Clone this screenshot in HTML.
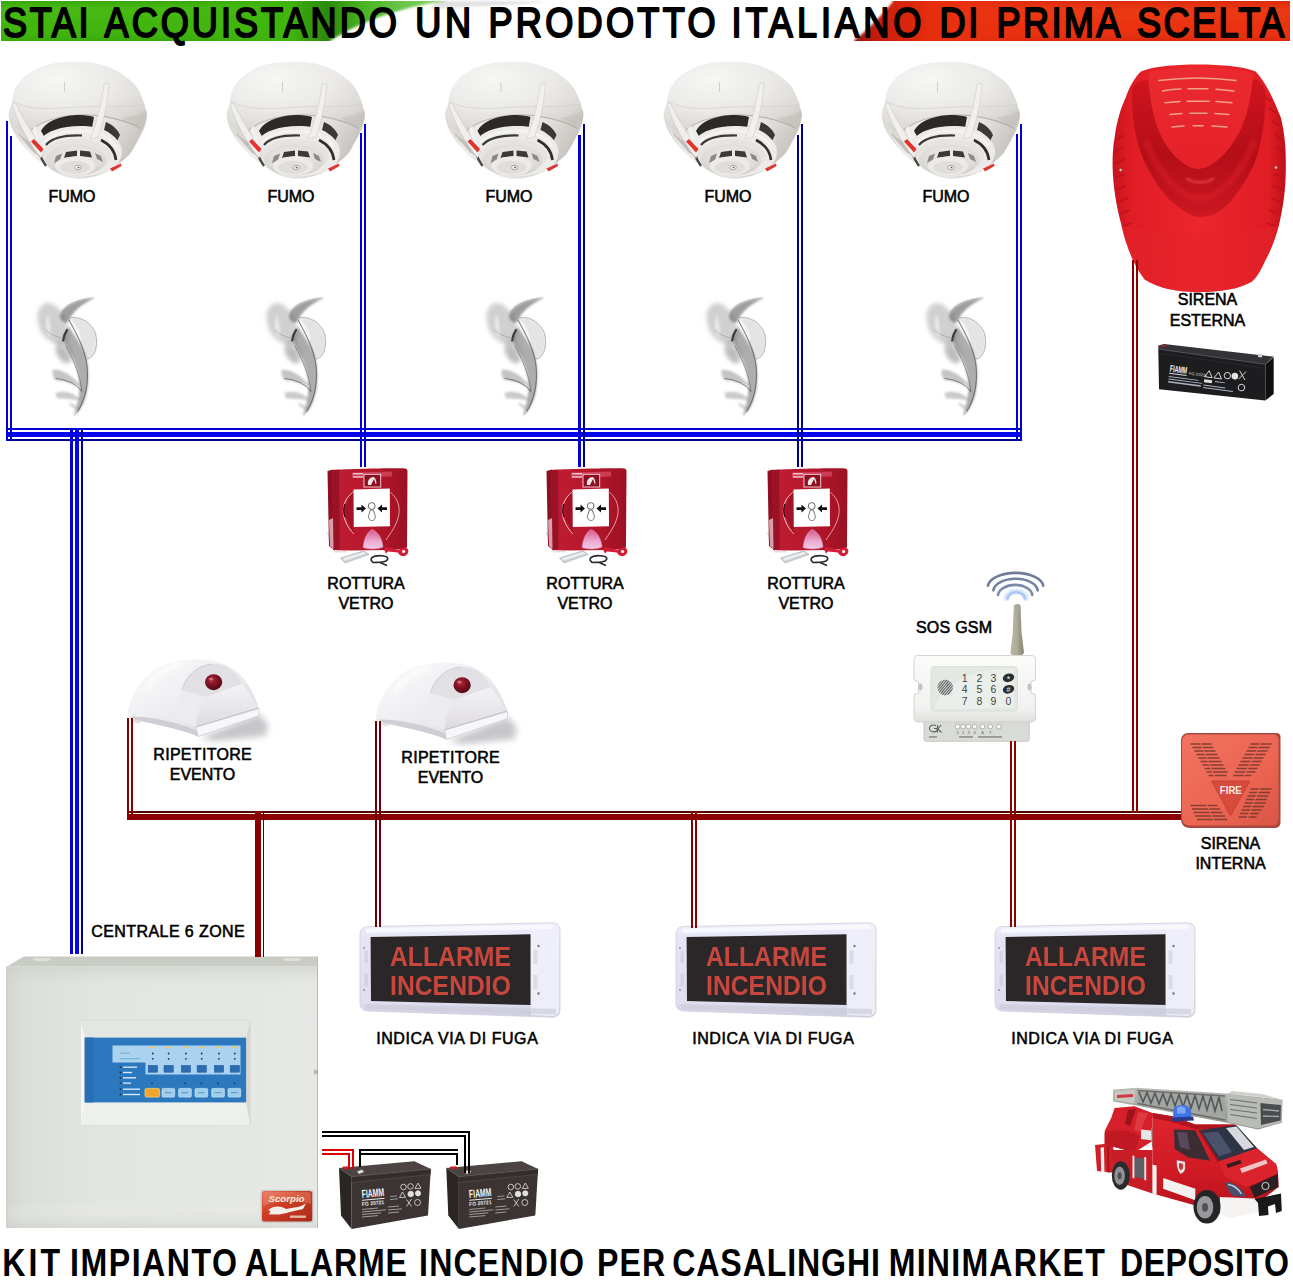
<!DOCTYPE html>
<html>
<head>
<meta charset="utf-8">
<title>Kit impianto allarme incendio</title>
<style>
html,body{margin:0;padding:0;background:#fff;}
body{width:1293px;height:1285px;overflow:hidden;font-family:"Liberation Sans",sans-serif;}
svg{display:block;position:absolute;left:0;top:0;}
text{font-family:"Liberation Sans",sans-serif;}
.lbl{font-size:16px;fill:#000;text-anchor:middle;stroke:#000;stroke-width:0.55px;}
.hdw{font-size:42px;fill:#000;stroke:#000;stroke-width:2px;stroke-linejoin:round;}
.ftw{font-size:39.2px;font-weight:bold;fill:#000;}
</style>
</head>
<body>
<svg width="1293" height="1285" viewBox="0 0 1293 1285">
<defs>

<linearGradient id="gGreen" x1="0" y1="0" x2="1" y2="0">
  <stop offset="0" stop-color="#3fb50c"/><stop offset="0.45" stop-color="#4cbc16"/><stop offset="0.8" stop-color="#3aa90a"/><stop offset="0.93" stop-color="#2b8a08"/><stop offset="1" stop-color="#5fbf3a" stop-opacity="0.5"/>
</linearGradient>
<linearGradient id="gRed" x1="0" y1="0" x2="1" y2="0">
  <stop offset="0" stop-color="#a5140a"/><stop offset="0.08" stop-color="#d8260c"/><stop offset="0.5" stop-color="#ee3410"/><stop offset="1" stop-color="#e52d0e"/>
</linearGradient>
<filter id="blur1" x="-20%" y="-20%" width="140%" height="140%"><feGaussianBlur stdDeviation="1"/></filter>
<filter id="blur2" x="-20%" y="-20%" width="140%" height="140%"><feGaussianBlur stdDeviation="2"/></filter>
<filter id="blur3" x="-30%" y="-30%" width="160%" height="160%"><feGaussianBlur stdDeviation="3"/></filter>
<filter id="blur05" x="-10%" y="-10%" width="120%" height="120%"><feGaussianBlur stdDeviation="0.5"/></filter>

<radialGradient id="gDome" cx="0.35" cy="0.25" r="0.85">
  <stop offset="0" stop-color="#f6f6f5"/><stop offset="0.5" stop-color="#ebeae8"/><stop offset="0.82" stop-color="#dcdad6"/><stop offset="1" stop-color="#c8c5c0"/>
</radialGradient>
<linearGradient id="gHead" x1="0" y1="0" x2="1" y2="0.3">
  <stop offset="0" stop-color="#d4d2ce"/><stop offset="0.3" stop-color="#eeedeb"/><stop offset="0.7" stop-color="#e6e4e1"/><stop offset="1" stop-color="#c6c3be"/>
</linearGradient>
<radialGradient id="gCap" cx="0.5" cy="0.4" r="0.7">
  <stop offset="0" stop-color="#f0efed"/><stop offset="0.7" stop-color="#dcdad6"/><stop offset="1" stop-color="#c2bfb9"/>
</radialGradient>
<g id="det">
  <!-- sensor head (lower stepped cylinder) -->
  <path d="M9,112 C8.500,118 10,125 13.600,131.700 C17,138 21,144 30.900,154 C36,159 46,166 52,170.100 C58,174 66,178 76.700,178.800 C88,179 98,176 105.200,172.600 C112,169 120,164 130,154 C134,148 140,137 143.600,129.300 C146,123 147,118 146.700,112 Z" fill="url(#gHead)"/>
  <!-- left shaded facets -->
  <path d="M18,134 L30,128 L42,158 L33,152 Z" fill="#b8b4af" opacity="0.800"/>
  <path d="M10,118 L21,119 L30,142 L21,136 Z" fill="#dcd9d5"/>
  <!-- dome -->
  <path d="M11.800,104.500 C12,100 12.500,98 13,95.800 C14,90 16,86 18.600,83.500 C22,78 26,75 30.900,72.300 C36,68.500 42,66 49.500,64.300 C58,62.500 68,61.800 79.200,61.800 C90,61.800 98,63.500 105.200,66.100 C111,68 117,70.500 121.300,73.600 C126,77 130,80 133.700,83.500 C137,87 139.500,91 141.100,95.800 C143,100 144.500,104 145.400,108.200 C146.500,112 146.900,115 146.700,116.900 C146,122 144,126 141,128.500 C126,120 100,114 78,115 C58,116 38,122 28,133 C20,130 10,124 8.700,116.900 C8.500,113 9.500,108 11.800,104.500 Z" fill="url(#gDome)"/>
  <path d="M12.500,101 C30,112 60,108 80,107 C105,106 130,108 144.500,104" fill="none" stroke="#cfccc7" stroke-width="1" opacity="0.6"/>
  <!-- dome lower rim shading -->
  <path d="M141,128.500 C126,120 100,114 78,115 C58,116 38,122 28,133" fill="none" stroke="#a9a59f" stroke-width="1.200" opacity="0.700"/>
  <path d="M146.700,110 C147,119 145,124.500 141,128.500 C135,123.500 128,120 122,118 C132,117 142,114 146.700,110 Z" fill="#c4c1bb" opacity="0.550"/>
  <!-- mesh black band -->
  <path d="M41,131 C46,121 62,115 80,115 C86,115 91,116 94,117 L92,128 C84,126 70,126 58,130 C52,132 48,135 45,138 Z" fill="#2b2a29"/>
  <path d="M106,122 C113,125 118,130 120,135 L117,141 C114,136 109,132 104,130 Z" fill="#3a3938"/>
  <path d="M44,136 C52,130 66,126.500 92,126.500 L92,128 C84,126 70,126 58,130 C52,132 48,135 45,138 Z" fill="#8a8885"/>
  <!-- ring under mesh -->
  <path d="M40,140 C46,131 62,126 80,126 C100,126 116,134 121,146 C124,154 120,164 112,169 C100,176 80,178 66,175 C52,171 44,162 41,152 C39,147 39,143 40,140 Z" fill="#ecebe9"/>
  <path d="M44,143 C50,135 64,131 80,131 C97,131 111,137 116,147" fill="none" stroke="#f4f3f1" stroke-width="2.5"/>
  <!-- inner dark arcs -->
  <path d="M46,145 C52,138 66,135 82,135.5" fill="none" stroke="#3a3938" stroke-width="2.2"/>
  <path d="M101,140 C109,144 115,151 116,160" fill="none" stroke="#2f2e2d" stroke-width="2.6"/>
  <path d="M39,152 C41,158 43,162 46,166" fill="none" stroke="#4a4846" stroke-width="2.4"/>
  <!-- lower step ring -->
  <ellipse cx="77" cy="156" rx="34" ry="17" fill="#e6e4e1"/>
  <ellipse cx="76" cy="160" rx="30" ry="15.5" fill="url(#gCap)"/>
  <!-- slots -->
  <path d="M66,152 L77,150.5 L77,156 L64,158 Z" fill="#3b3a39"/>
  <path d="M80,150.5 L90,151.5 L92,157.5 L80,156 Z" fill="#3b3a39"/>
  <path d="M56,156 L62,153.5 L60,160 L54,163 Z" fill="#8d8a86"/>
  <path d="M95,153 L101,156 L103,162 L97,159 Z" fill="#8d8a86"/>
  <!-- bottom cap -->
  <ellipse cx="75" cy="166" rx="20" ry="9.5" fill="#ecebe9"/>
  <ellipse cx="75" cy="167.5" rx="15" ry="6.5" fill="#e0deda"/>
  <ellipse cx="78" cy="167.5" rx="3.2" ry="2.2" fill="#f5f5f4" stroke="#9a9792" stroke-width="0.8"/>
  <ellipse cx="78.5" cy="167.5" rx="1" ry="0.8" fill="#55524f"/>
  <!-- straps -->
  <path d="M104,84 L109,83 C108,100 104,120 98,137 L90,139 C97,122 102,102 104,84 Z" fill="#f1f0ee" stroke="#c9c6c1" stroke-width="0.5"/>
  <path d="M12,104 L15.500,102.500 C21,116 34,136 44,152 L41,158 C29,143 17,122 12,104 Z" fill="#f0efed" stroke="#c4c0bb" stroke-width="0.500"/>
  <path d="M33,128 L36,126 C37,134 39,142 42,150 L38,146 Z" fill="#f3f2f0"/>
  <!-- red leds -->
  <path d="M31,141.5 L34,139 L43.5,149 L41,152.5 Z" fill="#e2332f"/>
  <path d="M110,168.5 L121,163.5 L121.5,166 L112,171.5 Z" fill="#dd3733"/>
  <!-- dome notch -->
  <path d="M64.5,82 L64.5,92" stroke="#c8c5c1" stroke-width="0.8"/>
</g>

<g id="smoke">
  <g filter="url(#blur2)" stroke="none">
    <path d="M38,322 C36,312 40,304 47,303 C54,303 58,308 62,312 C67,318 70,330 68,340 C66,347 58,346 50,341 C43,337 39,330 38,322 Z" fill="#9c9c9c" opacity="0.48"/>
    <path d="M56,340 C62,338 70,342 72,352 C73,360 70,364 66,364 C60,362 55,352 56,340 Z" fill="#a4a4a4" opacity="0.45"/>
    <path d="M55,348 C60,344 68,348 71,362 C64,364 56,358 55,348 Z" fill="#a0a0a0" opacity="0.5"/>
  </g>
  <g filter="url(#blur1)" stroke="none">
    <path d="M48,314 C50,322 52,330 50,338 C46,332 44,322 48,314 Z" fill="#ffffff" opacity="0.5"/>
    <path d="M60,316 C62,306 76,299.500 94.700,298 C86,302 76,308 70,318 C68,322 66,324 64,322 C62,321 60,319 60,316 Z" fill="#6a6a6a" opacity="0.65"/>
    <path d="M69,318 C78,316 88,320 94,330 C98,338 97,350 93,355 C91,358 88,359.500 86,359 C84,354 82,349 80,345 C82,338 78,326 69,318 Z" fill="#d2d2d2" opacity="0.6"/>
    <path d="M63,340 C63,334 66,330 69,327 C76,338 86,350 87.500,364 C89.500,378 88,394 82.500,405 C80,410 77,414 73.500,416 C78,404 80.500,392 79,380 C77.500,366 70,352 63,340 Z" fill="#626262" opacity="0.52"/>
    <path d="M52.500,370 C60,368.500 72,374 81.500,387 C74,384 64,381 55,380 C53,377 52,373 52.500,370 Z" fill="#8c8c8c" opacity="0.5"/>
    <path d="M55.500,393 C64,389.500 75,393 81.500,400.500 C74,400 64,398 57,398.500 Z" fill="#929292" opacity="0.48"/>
    <path d="M68.500,403 C73,403 77,406 79.500,410 C75,410 71,407 68.500,403 Z" fill="#9a9a9a" opacity="0.45"/>
  </g>
  <g filter="url(#blur05)" fill="none" stroke-linecap="round">
    <path d="M63.200,340.500 C63.600,336 65,333 67,330" stroke="#141414" stroke-width="2.200" opacity="0.75"/>
    <path d="M69,320 C78,336 85,350 87,366 C88.500,382 86,398 78,411" stroke="#4c4c4c" stroke-width="1.100" opacity="0.7"/>
    <path d="M66,346 C72,358 80,372 82,392" stroke="#5a5a5a" stroke-width="0.900" opacity="0.6"/>
    <path d="M56,378.500 C66,379.500 76,384 81.500,391" stroke="#4f4f4f" stroke-width="1.100" opacity="0.6"/>
    <path d="M69,318 C78,316 88,320 94,330 C98,338 97,350 93,355 C91,358 88,359.500 86,359" stroke="#9a9a9a" stroke-width="0.900" opacity="0.75"/>
    <path d="M62,312 C66,304 78,299.500 94,298" stroke="#8a8a8a" stroke-width="0.800" opacity="0.5"/>
    <path d="M66,338 C60,338 52,336 46,330" stroke="#7c7c7c" stroke-width="1" opacity="0.4"/>
  </g>
</g>

<linearGradient id="gCP" x1="0" y1="0" x2="1" y2="0">
  <stop offset="0" stop-color="#a81428"/><stop offset="0.12" stop-color="#bd1c31"/><stop offset="0.55" stop-color="#b6172b"/><stop offset="1" stop-color="#9c1124"/>
</linearGradient>
<linearGradient id="gFlap" x1="0" y1="0" x2="0" y2="1">
  <stop offset="0" stop-color="#d65a8a"/><stop offset="0.6" stop-color="#ecaad0"/><stop offset="1" stop-color="#f3c9e2"/>
</linearGradient>
<g id="cp">
  <!-- soft base shadow / white back plate -->
  <path d="M326.500,532 L334,552.500 L347,552.500 L345,540 L333,532 Z" fill="#ecdde2"/>
  <!-- back box -->
  <path d="M327.5,471 L333,469.5 L333,549 L329,546 Z" fill="#8e0f22"/>
  <!-- main body -->
  <path d="M332,470 C350,469 390,468 405,468.5 C407,468.6 407.5,470 407.5,472 L407,546 C407,548 406,549 404,549 L390,550 L350,550.5 L333,550 Z" fill="url(#gCP)"/>
  <!-- left darker side panel -->
  <path d="M333,470 L339,470 L339.5,549 L333,549.5 Z" fill="#9a1225"/><path d="M329,520 L333,518 L333.500,549 L330,546 Z" fill="#e3b9c2" opacity="0.85"/>
  <!-- top highlight strip -->
  <path d="M352,472.5 L392,471.5 L392,476.5 L352,477.5 Z" fill="#d9506a" opacity="0.7"/>
  <!-- side lens curves -->
  <path d="M353.5,492 C344,498 341,510 345,520 C347,526 351,531 354,534" fill="none" stroke="#f2c2c8" stroke-width="1"/>
  <path d="M353.5,492 C346,499 344,510 347,519 C349,525 352,530 354,534 Z" fill="#9c1024" opacity="0.8"/>
  <path d="M390,492 C398,498 401,508 398,518 C396,526 390,534 386,540" fill="none" stroke="#e9a9b3" stroke-width="0.9"/>
  <path d="M390,492 C396,499 398,508 396,516 C394,522 392,526 390,528 Z" fill="#ad1428" opacity="0.9"/>
  <path d="M345,504 C343.5,508 343.5,513 345,517" stroke="#3a0810" stroke-width="1.4" fill="none"/>
  <!-- white window -->
  <path d="M353.5,489.5 L389.8,488.6 L390,526.2 L353.8,527 Z" fill="#ffffff"/>
  <!-- logo box -->
  <rect x="364" y="474.3" width="16.7" height="12.7" fill="#8c0e1f" stroke="#f7dfe3" stroke-width="0.9"/>
  <path d="M368,485 C367,480 370,477 374,477 C376,479 377,482 376,485 Z" fill="#f4e6e8"/>
  <path d="M371,485 L374,479 L376,485 Z" fill="#8c0e1f"/>
  <rect x="353" y="473" width="10" height="1.4" fill="#f3c6cf"/>
  <rect x="353" y="476.3" width="10" height="1.4" fill="#f3c6cf"/>
  <!-- arrows + circle + finger -->
  <path d="M356.5,507.3 L361.5,507.3 L361.5,504.6 L366,508.6 L361.5,512.6 L361.5,509.9 L356.5,509.9 Z" fill="#111"/>
  <path d="M387,507.3 L382,507.3 L382,504.6 L377.5,508.6 L382,512.6 L382,509.9 L387,509.9 Z" fill="#111"/>
  <circle cx="371.7" cy="506" r="3.4" fill="#fff" stroke="#555" stroke-width="0.9"/>
  <path d="M370.4,510 L373.2,510 L374.6,514 C376,516 375.5,520 372.5,520.5 C369.5,520.8 368,518 368.6,515.5 Z" fill="#fff" stroke="#666" stroke-width="0.9"/>
  <!-- flap -->
  <path d="M372,529.5 C378,532 382,538 383,547 C378,549.5 368,549.5 363,547.5 C364,539 367,532 372,529.5 Z" fill="url(#gFlap)" stroke="#d994bd" stroke-width="0.6"/>
  <!-- key -->
  <path d="M384,549.5 L386,547 L399,550 C401,547 406,546.5 408,549.5 C409.5,553 406,557 402,556 C399.5,555.5 398.5,553.5 398,552.5 L388,551.5 L386,553.5 Z" fill="#d11d35"/>
  <circle cx="403.6" cy="551.5" r="1.6" fill="#fff"/>
  <!-- silver bar -->
  <path d="M340.5,558 L364,550.8 L369,554.5 L345,563 Z" fill="#cfd3d6" stroke="#9aa0a5" stroke-width="0.5"/>
  <path d="M343,558.6 L364,552 L366,553.5 L345,560.5 Z" fill="#eef1f3"/>
  <!-- black loop -->
  <path d="M371,560 C371,556 378,555 384,556 C388,556.5 389,559 386,561 C382,563 377,562 373,562.5 Z" fill="none" stroke="#2a2a2a" stroke-width="1.6"/>
  <path d="M380,562.5 L387,565.5" stroke="#2a2a2a" stroke-width="1.5"/>
</g>

<linearGradient id="gRep" x1="0" y1="0" x2="1" y2="1">
  <stop offset="0" stop-color="#fbfbfc"/><stop offset="0.45" stop-color="#efeef1"/><stop offset="1" stop-color="#d9d7dd"/>
</linearGradient>
<linearGradient id="gRepF" x1="0" y1="0" x2="0" y2="1">
  <stop offset="0" stop-color="#f4f3f6"/><stop offset="1" stop-color="#dddbe0"/>
</linearGradient>
<radialGradient id="gLed" cx="0.4" cy="0.35" r="0.7">
  <stop offset="0" stop-color="#b02a3c"/><stop offset="0.5" stop-color="#7d1222"/><stop offset="1" stop-color="#4e0812"/>
</radialGradient>
<g id="rep">
  <!-- shadow -->
  <path d="M200,738 L259,714 L268,724 L266,736 L215,741 Z" fill="#8f8f96" opacity="0.5" filter="url(#blur3)"/>
  <path d="M131,712 C130,718 133,721 140,722" stroke="#c8c8cc" stroke-width="2" fill="none" filter="url(#blur1)"/>
  <!-- body silhouette -->
  <path d="M127.500,716 C128,700 139,681 155,669.500 C171,660 190,658.800 204,659.800 C217,660.800 229,664.500 239,673.500 C247,681 255,695 259,708.500 L259.200,715.500 L198,736.500 C186,731 160,725 135.700,720 C131,719 128,718 127.500,716 Z" fill="url(#gRep)"/>
  <!-- left highlight -->
  <path d="M146,690 C152,678 166,668 182,664" stroke="#ffffff" stroke-width="5" fill="none" opacity="0.8" filter="url(#blur2)"/>
  <!-- lower left shade -->
  <path d="M130,716.500 C150,716 176,722 196,730 L198,736.500 C186,731 160,725 135.700,720 Z" fill="#c9c7ce" opacity="0.8"/>
  <!-- recess -->
  <path d="M182,690 C186,676 196,666 212,664 C224,663 234,668 242,684 L206,697 Z" fill="#e1e0e5"/>
  <path d="M182,690 C186,676 196,666 212,664" stroke="#cfcdd4" stroke-width="1" fill="none"/>
  <!-- front sloped face -->
  <path d="M206,697 L242,684 C248,692 254,700 258,708 L196,727 C196,715 200,704 206,697 Z" fill="url(#gRepF)"/>
  <path d="M182,690 L206,697 C200,704 196,715 196,727 C190,724 184,722 178,720 C176,710 178,698 182,690 Z" fill="#ecebef"/>
  <!-- lip -->
  <path d="M196,727 L259,708.500 L259.200,715.500 L198,736.500 Z" fill="#f7f7f9" stroke="#c4c2c9" stroke-width="0.6"/>
  <path d="M196,727 L258,708" stroke="#bdbbc2" stroke-width="0.8"/>
  <!-- LED -->
  <ellipse cx="213.6" cy="682.2" rx="8.6" ry="8" fill="url(#gLed)"/>
  <ellipse cx="211" cy="679" rx="2.2" ry="1.6" fill="#d77a86" opacity="0.8"/>
</g>

<linearGradient id="gSign" x1="0" y1="0" x2="0" y2="1">
  <stop offset="0" stop-color="#f0f0fb"/><stop offset="0.15" stop-color="#e5e5f4"/><stop offset="0.85" stop-color="#dedeee"/><stop offset="1" stop-color="#cdcddf"/>
</linearGradient>
<g id="sign">
  <path d="M368,926.5 L552,922.8 C557,922.7 560,925.5 560,930 L560,1010 C560,1014.5 557,1017.3 552,1017.2 L368,1011 C363,1010.8 360,1008 360,1003.5 L360,934 C360,929.5 363,926.6 368,926.5 Z" fill="url(#gSign)" stroke="#cfcfdd" stroke-width="0.8"/>
  <!-- right face lighter -->
  <path d="M531,925 L552,924 C556.5,924 559,926.5 559,930 L559,1010 C559,1013.5 556.5,1016 552,1016 L531,1015 Z" fill="#f0f0fa" opacity="0.9"/>
  <!-- top highlight -->
  <path d="M366,928.5 L553,924.5 L553,929 L366,933 Z" fill="#fafaff" opacity="0.8"/>
  <!-- bottom shade -->
  <path d="M364,1004 L556,1009 L556,1014.5 L366,1009 Z" fill="#c9c9d8" opacity="0.6"/>
  <!-- black panel -->
  <path d="M370.6,937 L530.5,934.3 L530.5,1005 L371,1001 Z" fill="#2b2729"/>
  <!-- grilles -->
  <g stroke="#b9b9c8" stroke-width="0.7">
    <path d="M533.5,951 h4 M533.5,953 h4 M533.5,955 h4 M533.5,957 h4 M533.5,959 h4 M533.5,961 h4 M533.5,963 h4"/>
    <path d="M533.5,976 h4 M533.5,978 h4 M533.5,980 h4 M533.5,982 h4 M533.5,984 h4 M533.5,986 h4 M533.5,988 h4"/>
    <path d="M364.5,952 h3.5 M364.5,954 h3.5 M364.5,956 h3.5 M364.5,958 h3.5 M364.5,960 h3.5 M364.5,962 h3.5"/>
    <path d="M364.5,975 h3.5 M364.5,977 h3.5 M364.5,979 h3.5 M364.5,981 h3.5 M364.5,983 h3.5 M364.5,985 h3.5"/>
  </g>
  <circle cx="538.5" cy="946" r="1.2" fill="#77778a"/><circle cx="538.5" cy="993.5" r="1.2" fill="#77778a"/>
  <circle cx="364" cy="948" r="0.9" fill="#8a8a9c"/><circle cx="364" cy="990" r="0.9" fill="#8a8a9c"/>
  <!-- text -->
  <g font-weight="bold" font-size="28.5" fill="#c8463e" filter="url(#blur05)">
    <text x="390" y="966" textLength="121" lengthAdjust="spacingAndGlyphs">ALLARME</text>
    <text x="390" y="994.8" textLength="121" lengthAdjust="spacingAndGlyphs">INCENDIO</text>
  </g>
</g>

<linearGradient id="gAnt" x1="0" y1="0" x2="1" y2="0">
  <stop offset="0" stop-color="#b9b7a6"/><stop offset="0.45" stop-color="#aeac9a"/><stop offset="1" stop-color="#85836f"/>
</linearGradient>
<linearGradient id="gGsm" x1="0" y1="0" x2="0" y2="1">
  <stop offset="0" stop-color="#fbfbfa"/><stop offset="0.8" stop-color="#f1f2f0"/><stop offset="1" stop-color="#dfe0dd"/>
</linearGradient>
<pattern id="hatch" width="2" height="2" patternUnits="userSpaceOnUse" patternTransform="rotate(-50)">
  <rect width="2" height="2" fill="#d9ddd8"/><rect width="2" height="1" fill="#55585a"/>
</pattern>

<linearGradient id="gSirB" x1="0" y1="0" x2="1" y2="0">
  <stop offset="0" stop-color="#c8141e"/><stop offset="0.1" stop-color="#e01c25"/><stop offset="0.5" stop-color="#ec262c"/><stop offset="0.9" stop-color="#e01c25"/><stop offset="1" stop-color="#c01019"/>
</linearGradient>
<linearGradient id="gSirU" x1="0" y1="0" x2="0" y2="1">
  <stop offset="0" stop-color="#d0141e"/><stop offset="0.55" stop-color="#b40e18"/><stop offset="1" stop-color="#cc1822"/>
</linearGradient>
<linearGradient id="gSirT" x1="0" y1="0" x2="0" y2="1">
  <stop offset="0" stop-color="#ea2a30"/><stop offset="1" stop-color="#e52128"/>
</linearGradient>
<linearGradient id="gInt" x1="0" y1="0" x2="1" y2="1">
  <stop offset="0" stop-color="#f07360"/><stop offset="0.6" stop-color="#ec6553"/><stop offset="1" stop-color="#d95443"/>
</linearGradient>

<linearGradient id="gPanel" x1="0" y1="0" x2="1" y2="0">
  <stop offset="0" stop-color="#d3d6cf"/><stop offset="0.06" stop-color="#dcdfd9"/><stop offset="0.3" stop-color="#e3e5e1"/><stop offset="1" stop-color="#e6e8e5"/>
</linearGradient>
<linearGradient id="gPanelV" x1="0" y1="0" x2="0" y2="1">
  <stop offset="0" stop-color="#c8cbc3" stop-opacity="0.55"/><stop offset="0.08" stop-color="#d8dbd5" stop-opacity="0"/><stop offset="0.9" stop-color="#ffffff" stop-opacity="0"/><stop offset="1" stop-color="#c9ccc6" stop-opacity="0.5"/>
</linearGradient>
<linearGradient id="gLogo" x1="0" y1="0" x2="1" y2="1">
  <stop offset="0" stop-color="#e8735a"/><stop offset="0.4" stop-color="#cf3c24"/><stop offset="1" stop-color="#a82a18"/>
</linearGradient>

<g id="batt">
  <path d="M339,1168 L351.6,1176.7 L351.6,1229 L341,1215.4 Z" fill="#2b2624"/>
  <path d="M351.6,1176.7 L430.8,1169 L428,1215.4 L351.6,1229 Z" fill="#3b3432"/>
  <path d="M339,1168 L414.4,1161.2 L430.8,1169 L351.6,1176.7 Z" fill="#4b4442"/>
  <path d="M351.6,1176.7 L430.8,1169 L430.5,1174.5 L351.6,1182.5 Z" fill="#332d2b"/>
  <path d="M351.6,1182.5 L430.5,1174.5" stroke="#574f4c" stroke-width="0.7"/>
  <path d="M351.6,1176.7 L430.8,1169" stroke="#5e5654" stroke-width="0.8"/>
  <path d="M339,1168 L351.6,1176.7" stroke="#5a5250" stroke-width="0.7"/>
  <path d="M342,1166.800 L349,1166.200 L351,1168.6 L344,1169.400 Z" fill="#c8202a"/>
  <path d="M357,1171.5 L362,1169.5 L364,1172 L359,1174 Z" fill="#d8d8d8"/>
  <text x="362" y="1198" font-size="11.5" font-weight="bold" fill="#f4f4f4" textLength="22.5" lengthAdjust="spacingAndGlyphs" transform="rotate(-5 362 1198)">FIAMM</text>
  <path d="M362,1200.300 L384.5,1198.300" stroke="#e8e8e8" stroke-width="1"/>
  <text x="362" y="1206" font-size="5.5" font-weight="bold" fill="#e4e4e4" textLength="22.5" lengthAdjust="spacingAndGlyphs" transform="rotate(-5 362 1206)">FG 20721</text>
  <g fill="none" stroke="#e2e2e2" stroke-width="0.8">
    <circle cx="403.5" cy="1187" r="2.8"/><circle cx="410.500" cy="1186.400" r="2.8"/><path d="M415,1188.500 l3,-5.500 l3,5.300 Z"/>
    <path d="M399.500,1197.500 l3,-5.500 l3,5.300 Z"/><circle cx="410.700" cy="1194" r="2.800" fill="#e2e2e2"/><circle cx="418" cy="1193.300" r="2.600" fill="#e2e2e2"/>
    <path d="M406.500,1199.500 l5,7 M411.500,1199 l-5,7.500"/><circle cx="417.500" cy="1202.500" r="3"/>
  </g>
  <g stroke="#cfcaca" stroke-width="0.8" opacity="0.85">
    <path d="M362,1209.500 L378,1208 M362,1212 L386,1209.800 M362,1214.500 L381,1212.800 M362,1217 L378,1215.600 M388,1207 L399,1206 M388,1210 L402,1208.800 M388,1213 L399,1212 M390,1196.500 L397,1195.900 M390,1199.500 L398,1198.800"/>
  </g>
</g>

<linearGradient id="gTruck" x1="0" y1="0" x2="0" y2="1">
  <stop offset="0" stop-color="#e0252e"/><stop offset="0.6" stop-color="#cf1a24"/><stop offset="1" stop-color="#b3121b"/>
</linearGradient>
<linearGradient id="gLadder" x1="0" y1="0" x2="0" y2="1">
  <stop offset="0" stop-color="#b9bbb7"/><stop offset="1" stop-color="#8e908c"/>
</linearGradient>

<linearGradient id="gGreen2" gradientUnits="userSpaceOnUse" x1="290" y1="0" x2="446" y2="0">
  <stop offset="0" stop-color="#41b60e"/><stop offset="0.1" stop-color="#379f0a"/><stop offset="0.24" stop-color="#2c8a08"/><stop offset="0.5" stop-color="#4fb82a"/><stop offset="1" stop-color="#8fd46e"/>
</linearGradient>
<linearGradient id="gGreenV" x1="0" y1="0" x2="0" y2="1">
  <stop offset="0" stop-color="#2f9a06" stop-opacity="0.5"/><stop offset="0.2" stop-color="#52c01c" stop-opacity="0.4"/><stop offset="0.6" stop-color="#52c01c" stop-opacity="0"/><stop offset="1" stop-color="#2f9a06" stop-opacity="0.45"/>
</linearGradient>
<linearGradient id="gRed2" gradientUnits="userSpaceOnUse" x1="853" y1="0" x2="960" y2="0">
  <stop offset="0" stop-color="#9a1208"/><stop offset="0.25" stop-color="#c81e0a"/><stop offset="0.7" stop-color="#e52d0e"/><stop offset="1" stop-color="#ea3110"/>
</linearGradient>
<linearGradient id="gRedV" x1="0" y1="0" x2="0" y2="1">
  <stop offset="0" stop-color="#d02408" stop-opacity="0.5"/><stop offset="0.25" stop-color="#f04a1e" stop-opacity="0.35"/><stop offset="0.7" stop-color="#f04a1e" stop-opacity="0"/><stop offset="1" stop-color="#c81e06" stop-opacity="0.45"/>
</linearGradient>

<linearGradient id="gFadeG" gradientUnits="userSpaceOnUse" x1="180" y1="0" x2="291" y2="0"><stop offset="0" stop-color="#fff"/><stop offset="1" stop-color="#000"/></linearGradient>
<mask id="mFadeG" maskUnits="userSpaceOnUse" x="0" y="0" width="300" height="50"><rect x="0" y="0" width="300" height="50" fill="url(#gFadeG)"/></mask>
<linearGradient id="gFadeR" gradientUnits="userSpaceOnUse" x1="950" y1="0" x2="1040" y2="0"><stop offset="0" stop-color="#000"/><stop offset="1" stop-color="#fff"/></linearGradient>
<mask id="mFadeR" maskUnits="userSpaceOnUse" x="940" y="0" width="360" height="50"><rect x="940" y="0" width="360" height="50" fill="url(#gFadeR)"/></mask>
<clipPath id="cBand"><rect x="0" y="1" width="1293" height="40"/></clipPath>
<!--DEFS-->
</defs>

<!-- ===== HEADER BANDS ===== -->
<g id="header">

<path d="M436,1 L548,1.500 C520,5 470,7 430,9 Z" fill="#cfcfcf" opacity="0.600" filter="url(#blur1)"/>
<g clip-path="url(#cBand)"><path d="M270,-2 L446,-2 L446,1 C410,5 362,20 330,41 L330,44 L270,44 Z" fill="url(#gGreen2)" filter="url(#blur1)"/></g>
<rect x="1" y="1" width="290" height="40" fill="#41b60e"/>
<rect x="1" y="1" width="290" height="40" fill="url(#gGreenV)" mask="url(#mFadeG)"/>
<g clip-path="url(#cBand)"><path d="M893,-2 L970,-2 L970,44 L854,44 L854,40.500 C868,30 883,14 893,1.500 Z" fill="url(#gRed2)" filter="url(#blur1)"/></g>
<rect x="950" y="1" width="340" height="40" fill="#ea3110"/>
<rect x="950" y="1" width="340" height="40" fill="url(#gRedV)" mask="url(#mFadeR)"/>
<g id="hdtext" transform="scale(0.86,1)">
<text class="hdw" id="w_STAI" x="3.5" y="37.2" textLength="99.6" lengthAdjust="spacing">STAI</text>
<text class="hdw" id="w_ACQUISTANDO" x="121.6" y="37.2" textLength="339.9" lengthAdjust="spacing">ACQUISTANDO</text>
<text class="hdw" id="w_UN" x="483.0" y="37.2" textLength="64.8" lengthAdjust="spacing">UN</text>
<text class="hdw" id="w_PRODOTTO" x="568.0" y="37.2" textLength="264.0" lengthAdjust="spacing">PRODOTTO</text>
<text class="hdw" id="w_ITALIANO" x="850.5" y="37.2" textLength="220.8" lengthAdjust="spacing">ITALIANO</text>
<text class="hdw" id="w_DI" x="1092.4" y="37.2" textLength="45.2" lengthAdjust="spacing">DI</text>
<text class="hdw" id="w_PRIMA" x="1158.8" y="37.2" textLength="144.0" lengthAdjust="spacing">PRIMA</text>
<text class="hdw" id="w_SCELTA" x="1322.1" y="37.2" textLength="171.0" lengthAdjust="spacing">SCELTA</text>
</g>
<g id="fttext" transform="scale(0.82,1)">
<text class="ftw" id="w_KIT" x="2.8" y="1276" textLength="70.4" lengthAdjust="spacing">KIT</text>
<text class="ftw" id="w_IMPIANTO" x="85.4" y="1276" textLength="203.7" lengthAdjust="spacing">IMPIANTO</text>
<text class="ftw" id="w_ALLARME" x="298.9" y="1276" textLength="197.4" lengthAdjust="spacing">ALLARME</text>
<text class="ftw" id="w_INCENDIO" x="511.1" y="1276" textLength="201.1" lengthAdjust="spacing">INCENDIO</text>
<text class="ftw" id="w_PER" x="728.0" y="1276" textLength="83.1" lengthAdjust="spacing">PER</text>
<text class="ftw" id="w_CASALINGHI" x="819.7" y="1276" textLength="253.5" lengthAdjust="spacing">CASALINGHI</text>
<text class="ftw" id="w_MINIMARKET" x="1083.8" y="1276" textLength="263.6" lengthAdjust="spacing">MINIMARKET</text>
<text class="ftw" id="w_DEPOSITO" x="1365.8" y="1276" textLength="206.1" lengthAdjust="spacing">DEPOSITO</text>
</g>
<!--HEADER-->
</g>

<!-- ===== COMPONENTS ===== -->

<g id="detectors">
<use href="#det" x="0" y="0"/>
<use href="#det" x="218" y="0"/>
<use href="#det" x="436.5" y="0"/>
<use href="#det" x="655" y="0"/>
<use href="#det" x="873" y="0"/>
</g>

<g id="smokes">
<use href="#smoke" x="0" y="0"/>
<use href="#smoke" x="229" y="0"/>
<use href="#smoke" x="449" y="0"/>
<use href="#smoke" x="669" y="0"/>
<use href="#smoke" x="889" y="0"/>
</g>

<g id="callpoints">
<use href="#cp" x="0" y="0"/>
<use href="#cp" x="219" y="0"/>
<use href="#cp" x="440" y="0"/>
</g>

<g id="repeaters">
<use href="#rep" x="0" y="0"/>
<use href="#rep" x="248.5" y="3"/>
</g>

<g id="signs">
<use href="#sign" x="0" y="0"/>
<use href="#sign" x="316" y="0"/>
<use href="#sign" x="635" y="0"/>
</g>

<g id="gsm">
  <!-- wifi arcs -->
  <g fill="none" stroke-linecap="round">
    <path d="M1006.6,599 A9.7,8 0 0 1 1026,599" stroke="#cfe3fb" stroke-width="5" filter="url(#blur1)"/>
    <path d="M1007.5,598.5 A8.8,7 0 0 1 1025,598.5" stroke="#a9c8f2" stroke-width="2.6"/>
    <path d="M998,595 A17.2,11 0 0 1 1032.3,595" stroke="#7d8bab" stroke-width="2.600"/>
    <path d="M993.4,590.4 A22.2,12.5 0 0 1 1037.7,590.4" stroke="#74819f" stroke-width="2.600"/>
    <path d="M988,585.7 A27.7,14 0 0 1 1043.2,585.7" stroke="#6f7b98" stroke-width="2.600"/>
  </g>
  <!-- antenna -->
  <path d="M1013.800,606 C1014,603.200 1020.300,603.200 1020.500,606 L1021.500,632 L1024,653 L1022,655 L1012,655 L1010.400,653 L1012.800,632 Z" fill="url(#gAnt)"/>
  <!-- lower box -->
  <rect x="924" y="719" width="105.3" height="22.3" rx="2" fill="#d9dbd7" stroke="#b8bab6" stroke-width="0.7"/>
  <!-- main box -->
  <path d="M918,655.5 L1031.5,655.5 C1034,655.5 1035.5,657 1035.5,659.5 L1035.5,680 L1031,681.5 L1031,693 L1035.5,694.5 L1035.5,718 C1035.5,720.5 1034,722 1031.5,722 L918,722 C915.5,722 914,720.5 914,718 L914,694.5 L918.5,693 L918.5,681.5 L914,680 L914,659.5 C914,657 915.5,655.5 918,655.5 Z" fill="url(#gGsm)" stroke="#c9cbc7" stroke-width="0.8"/>
  <ellipse cx="920.5" cy="687" rx="2" ry="3.6" fill="#c2c4c0"/><ellipse cx="1029.5" cy="687" rx="2" ry="3.6" fill="#c2c4c0"/>
  <!-- inner panel -->
  <rect x="931" y="666.6" width="86.5" height="44.4" rx="3.5" fill="#e3e8e3" stroke="#cfd4cf" stroke-width="0.6"/>
  <path d="M934,709 C940,690 960,674 990,670 L1014,669 L1014,708 Z" fill="#eef2ee" opacity="0.7"/>
  <circle cx="945.2" cy="687.6" r="7.8" fill="url(#hatch)"/>
  <!-- keys -->
  <g font-size="10.5" fill="#3f4446" text-anchor="middle" font-family="Liberation Sans">
    <text x="964.6" y="682">1</text><text x="979.4" y="682">2</text><text x="993.4" y="682">3</text>
    <text x="964.6" y="693.4">4</text><text x="979.4" y="693.4">5</text><text x="993.4" y="693.4">6</text>
    <text x="964.6" y="705">7</text><text x="979.4" y="705">8</text><text x="993.4" y="705">9</text><text x="1008.5" y="705">0</text>
  </g>
  <ellipse cx="1008.5" cy="677.8" rx="5.8" ry="4.2" fill="#2b2f31" transform="rotate(-15 1008.5 677.8)"/>
  <ellipse cx="1008.5" cy="689.3" rx="5.8" ry="4.2" fill="#2b2f31" transform="rotate(-15 1008.5 689.3)"/>
  <text x="1008.5" y="682.3" font-size="9" fill="#e8ecec" text-anchor="middle">*</text>
  <text x="1008.5" y="692" font-size="7" fill="#e8ecec" text-anchor="middle">#</text>
  <!-- lower box details -->
  <g fill="#f7f8f6" stroke="#8b8e8a" stroke-width="0.6">
    <circle cx="957.6" cy="726.6" r="2.4"/><circle cx="963" cy="726.6" r="2.4"/><circle cx="968.5" cy="726.6" r="2.4"/><circle cx="974.7" cy="726.6" r="2.4"/>
    <circle cx="982.5" cy="726.6" r="2.4"/><circle cx="990.3" cy="726.6" r="2.4"/><circle cx="998.8" cy="726.6" r="2.4"/>
  </g>
  <g font-size="4" fill="#555" text-anchor="middle"><text x="957.6" y="733.6">1</text><text x="963" y="733.6">2</text><text x="968.5" y="733.6">3</text><text x="974.7" y="733.6">4</text><text x="982.5" y="733.6">&#916;</text><text x="990.3" y="733.6">T</text></g>
  <rect x="959" y="736.3" width="14" height="1.3" fill="#7c7f7b"/><rect x="978" y="736.3" width="24" height="1.3" fill="#7c7f7b"/><rect x="929" y="736.3" width="8" height="1.3" fill="#7c7f7b"/>
  <path d="M936,725.5 C932,724 929,726 929.5,729 C930,732 934,732.5 937,731 L937,728.5 L934,728.5 M937.5,725 L937.5,732.5 M941,725 L937.8,729 L941.5,732.5" fill="none" stroke="#5e6360" stroke-width="1.1"/>
</g>

<g id="extsiren">
  <path d="M1141,71.5 C1160,62 1236,62 1255.6,71.5 C1264,80 1272,95 1281,118 C1285,135 1286,150 1285.8,165 C1286,190 1283,208 1279,225 C1275,240 1270,252 1265,261 C1261,270 1257,277 1252,281.5 C1240,289 1220,292 1197,292.2 C1176,292 1158,288 1144.7,279.6 C1140,273 1136,267 1133,260 C1128,249 1124,237 1121.4,225 C1116,205 1113,185 1112.6,166.7 C1112.5,155 1113,146 1114.6,137.5 C1117,120 1121,108 1125.3,98.6 C1129,88 1134,78 1141,71.5 Z" fill="url(#gSirB)"/>
  <!-- lower body tint -->
  <path d="M1121.4,225 C1150,236 1250,236 1279,225 C1275,240 1270,252 1265,261 C1261,270 1257,277 1252,281.5 C1240,289 1220,292 1197,292.2 C1176,292 1158,288 1144.7,279.6 C1140,273 1136,267 1133,260 C1128,249 1124,237 1121.4,225 Z" fill="#e4232a" opacity="0.5"/>
  <!-- side ribs -->
  <g stroke="#b5111b" stroke-width="1.6" opacity="0.75">
    <path d="M1116,140 l8,-5 M1115,152 l9,-5 M1114.5,164 l10,-5 M1115,178 l10,-4 M1116,190 l10,-4 M1118,202 l10,-4 M1120,214 l10,-4 M1123,226 l9,-3"/>
    <path d="M1283,140 l-8,-5 M1284,152 l-9,-5 M1284.5,178 l-10,-4 M1283,190 l-10,-4 M1281,202 l-10,-4 M1279,214 l-10,-4 M1276,226 l-9,-3 M1280,126 l-8,-5 M1276,113 l-7,-5 M1271,101 l-6,-4"/>
  </g>
  <!-- U lens -->
  <path d="M1132,89 C1134,84 1140,80 1148,80 C1150,100 1154,125 1164,141.4 C1172,155 1184,167 1197.3,168.7 C1212,167 1226,152 1236,137.5 C1245,122 1250,100 1253,80 C1258,78 1264,84 1265.4,92.8 C1266,110 1264,125 1261.5,137.5 C1258,155 1254,166 1247.9,176.5 C1240,190 1233,200 1224.5,207.6 C1217,214 1209,217 1201,217 C1194,217 1188,214 1181.7,209.5 C1172,203 1165,196 1158.4,186 C1150,174 1143,160 1139,147 C1134,130 1131,108 1132,89 Z" fill="url(#gSirU)"/>
  <path d="M1146,140 C1156,170 1176,196 1200,199 C1224,196 1244,170 1254,140" fill="none" stroke="#e0202a" stroke-width="6" opacity="0.5" filter="url(#blur2)"/>
  <path d="M1186,178 C1194,184 1206,184 1214,178" fill="none" stroke="#f04a50" stroke-width="3" opacity="0.6" filter="url(#blur1)"/>
  <!-- inner tongue -->
  <path d="M1148.6,72 C1170,66 1232,66 1253.7,73.3 C1252,86 1250,98 1247.9,108.4 C1245,120 1241,130 1236.2,137.5 C1231,147 1224,155 1216.7,160.9 C1211,166 1204,168.7 1197.3,168.7 C1192,168.7 1186,165 1181.7,160.9 C1175,155 1169,148 1164.2,141.4 C1159,132 1155,120 1152.5,108.4 C1150,96 1149,84 1148.6,72 Z" fill="url(#gSirT)"/>
  <!-- slots -->
  <g stroke="#f2a08a" stroke-width="1.5" stroke-linecap="round" fill="none">
    <path d="M1159,80.5 C1185,77 1210,77 1236,80.5"/>
    <path d="M1162.500,91 C1170,89.500 1176,89 1181,89 M1188,88.800 L1208,88.800 M1216,89.200 C1223,89.600 1228,90.200 1234,91"/>
    <path d="M1165,102.800 L1180,101.500 M1187,101.300 L1209,101.300 M1216,101.600 L1232,102.800"/>
    <path d="M1170,114.500 L1182,113.500 M1190,113.300 L1207,113.300 M1215,113.600 L1229,114.500"/>
    <path d="M1172,127 L1184,126 M1193,125.800 L1203,125.800 M1212,126.100 L1227,127"/>
  </g>
  <circle cx="1120.700" cy="170" r="1.800" fill="#d8c0b0" stroke="#8c0a12" stroke-width="0.600"/>
  <circle cx="1276" cy="167.500" r="1.800" fill="#d8c0b0" stroke="#8c0a12" stroke-width="0.600"/>
</g>
<g id="extbatt">
  <path d="M1158.300,349 L1265.400,364.300 L1265.400,400.400 L1159,389.200 Z" fill="#1d1d20"/>
  <path d="M1265.400,364.300 L1273.700,357.200 L1273.700,394 L1265.400,400.400 Z" fill="#101013"/>
  <path d="M1158.300,345.600 L1164,344 L1273.700,356.600 L1265.400,364.300 L1158.300,349 Z" fill="#333337"/>
  <path d="M1158.300,349 L1265.400,364.300" stroke="#4c4c52" stroke-width="0.900"/>
  <path d="M1158.600,353 L1265.400,368.500" stroke="#2c2c30" stroke-width="0.800"/>
  <path d="M1160,345.300 L1166,344.600 L1167,346.600 L1161,347.200 Z" fill="#8a2a2a"/>
  <path d="M1258,353.500 L1262,354 L1262,357.500 L1258,357 Z" fill="#cfcfcf"/>
  <g transform="rotate(7.500 1169 371)">
    <text x="1169.500" y="371.500" font-size="9.500" font-weight="bold" fill="#f4f4f4" textLength="17.500" lengthAdjust="spacingAndGlyphs">FIAMM</text>
    <rect x="1169.500" y="372.700" width="17.500" height="1" fill="#ddd"/>
    <text x="1189" y="372" font-size="4.200" fill="#cfcfcf">FG 20201</text>
    <g fill="none" stroke="#e0e0e0" stroke-width="0.900">
      <path d="M1205,372 l3.800,-6.500 l3.800,6.500 Z M1214.500,372 l3.800,-6.500 l3.800,6.500 Z"/>
      <circle cx="1227.500" cy="368" r="3.200"/>
      <path d="M1239,361.500 l6.500,8.500 M1245.500,361.500 l-6.500,8.500"/><circle cx="1243" cy="378" r="3.300"/>
    </g>
    <circle cx="1235" cy="367.500" r="3.300" fill="#e6e6e6"/>
    <g fill="#aeb4c4"><rect x="1169.500" y="376" width="30" height="0.900"/><rect x="1169.500" y="378.500" width="34" height="0.900"/><rect x="1169.500" y="381" width="33" height="1.600"/><rect x="1205" y="374.500" width="8" height="3" fill="#e0e0e0"/><rect x="1205" y="380" width="22" height="0.900"/><rect x="1205" y="382.500" width="30" height="0.900"/><rect x="1216" y="375" width="10" height="0.900"/></g>
  </g>
</g>
<g id="intsiren">
  <path d="M1188,733 L1276,733 C1279,733 1280.5,734.5 1280.5,737 L1280.5,822 C1280.5,826 1278,828 1274,828 L1190,828 C1184,828 1181,824 1181,819 L1181,741 C1181,736 1184,733 1188,733 Z" fill="#a9483c"/>
  <path d="M1188,734.5 L1273,734.5 C1276.5,734.5 1278.5,736.5 1278.5,740 L1278.5,819 C1278.5,823 1276,825.5 1272,825.5 L1190,825.5 C1185,825.5 1182,822 1182,818 L1182,742 C1182,737.5 1184.5,734.5 1188,734.5 Z" fill="url(#gInt)"/>
  <g stroke="#7b3a2f" stroke-width="1.5" opacity="0.9">
    <path d="M1190.5,744 h21 M1192.5,747.5 h21 M1194.5,751 h21 M1196.5,754.5 h21 M1198.5,758 h21 M1200.5,761.500 h21 M1202.5,765 h21 M1204.5,768.5 h21 M1206.5,772 h21 M1208.500,775.5 h18"/>
    <path d="M1250.500,744 h21 M1248.500,747.5 h21 M1246.500,751 h21 M1244.500,754.5 h21 M1242.500,758 h21 M1240.500,761.5 h21 M1238.500,765 h21 M1236.500,768.5 h21 M1234.500,772 h21 M1233.500,775.5 h18"/>
    <path d="M1250.500,789 h21 M1249,792.5 h21 M1247.500,796 h21 M1246,799.5 h21 M1244.500,803 h21 M1243,806.500 h21 M1241.500,810 h20 M1240,813.500 h19 M1238.500,817 h18"/>
    <path d="M1190.500,805.5 h27 M1192,809 h28 M1193.500,812.500 h29 M1195,816 h30 M1197,819.500 h30"/>
  </g>
  <g stroke="#ec6553" stroke-width="1.2"><path d="M1200,742 L1215,778 M1261,742 L1243,778 M1260,787 L1247,819 M1206,803 L1214,821"/></g>
  <path d="M1211.500,781 L1250,781 L1230.500,816 Z" fill="#d84a3c" stroke="#c24034" stroke-width="0.8"/>
  <text x="1230.800" y="794" font-size="11" font-weight="bold" fill="#fbe9e4" text-anchor="middle" textLength="22" lengthAdjust="spacingAndGlyphs">FIRE</text>
</g>
<g id="panel">
<path d="M23.8,956.5 L317.5,956.5 L317.5,966.5 L7,966.5 Z" fill="#c9ccc4"/>
<ellipse cx="42" cy="959.5" rx="9" ry="1.6" fill="#dfe1dc"/><ellipse cx="292" cy="959.5" rx="9" ry="1.6" fill="#dfe1dc"/>
<rect x="6.8" y="966.5" width="310.7" height="261.5" fill="url(#gPanel)"/>
<rect x="6.8" y="966.5" width="310.7" height="261.5" fill="url(#gPanelV)"/>
<path d="M317.5,956.5 L317.5,1228" stroke="#b9bcb6" stroke-width="1"/>
<path d="M6.8,966.5 L6.8,1228" stroke="#c2c5be" stroke-width="1"/>
<path d="M80.7,1020.4 L250,1020.4 L250,1125 L80.7,1125 Z" fill="#eceeeb" stroke="#cfd2cc" stroke-width="0.8"/>
<path d="M80.7,1020.4 L85,1037.6 L85,1102.4 L80.7,1125 Z" fill="#f6f7f5"/>
<path d="M250,1020.4 L246,1037.6 L246,1102.4 L250,1125 Z" fill="#d6d9d3"/>
<path d="M80.7,1020.4 L250,1020.4 L246,1037.6 L85,1037.6 Z" fill="#e4e6e2"/>
<path d="M85,1102.4 L246,1102.4 L250,1125 L80.7,1125 Z" fill="#eef0ed"/>
<rect x="84.7" y="1037.6" width="161.4" height="64.8" fill="#2b78be"/>
<rect x="84.7" y="1037.6" width="9" height="64.8" fill="#2a6fb2"/>
<path d="M112.5,1045.5 L240.500,1045.5 L240.500,1074.6 L145.500,1074.6 L145.500,1062.400 L112.5,1062.400 Z" fill="#a9d3ee"/>
<rect x="148.2" y="1065.4" width="9.3" height="6.8" fill="#2c6cb0" stroke="#1f5798" stroke-width="0.5"/>
<rect x="149.79999999999998" y="1046.6" width="6" height="1.6" fill="#e8c76a"/>
<circle cx="152.79999999999998" cy="1053.5" r="0.9" fill="#1d3350"/><circle cx="152.79999999999998" cy="1058.8" r="0.9" fill="#1d3350"/>
<rect x="164" y="1065.4" width="9.3" height="6.8" fill="#2c6cb0" stroke="#1f5798" stroke-width="0.5"/>
<rect x="165.6" y="1046.6" width="6" height="1.6" fill="#e8c76a"/>
<circle cx="168.6" cy="1053.5" r="0.9" fill="#1d3350"/><circle cx="168.6" cy="1058.8" r="0.9" fill="#1d3350"/>
<rect x="181.3" y="1065.4" width="9.3" height="6.8" fill="#2c6cb0" stroke="#1f5798" stroke-width="0.5"/>
<rect x="182.9" y="1046.6" width="6" height="1.6" fill="#e8c76a"/>
<circle cx="185.9" cy="1053.5" r="0.9" fill="#1d3350"/><circle cx="185.9" cy="1058.8" r="0.9" fill="#1d3350"/>
<rect x="197.1" y="1065.4" width="9.3" height="6.8" fill="#2c6cb0" stroke="#1f5798" stroke-width="0.5"/>
<rect x="198.7" y="1046.6" width="6" height="1.6" fill="#e8c76a"/>
<circle cx="201.7" cy="1053.5" r="0.9" fill="#1d3350"/><circle cx="201.7" cy="1058.8" r="0.9" fill="#1d3350"/>
<rect x="214.3" y="1065.4" width="9.3" height="6.8" fill="#2c6cb0" stroke="#1f5798" stroke-width="0.5"/>
<rect x="215.9" y="1046.6" width="6" height="1.6" fill="#e8c76a"/>
<circle cx="218.9" cy="1053.5" r="0.9" fill="#1d3350"/><circle cx="218.9" cy="1058.8" r="0.9" fill="#1d3350"/>
<rect x="230.2" y="1065.4" width="9.3" height="6.8" fill="#2c6cb0" stroke="#1f5798" stroke-width="0.5"/>
<rect x="231.79999999999998" y="1046.6" width="6" height="1.6" fill="#e8c76a"/>
<circle cx="234.79999999999998" cy="1053.5" r="0.9" fill="#1d3350"/><circle cx="234.79999999999998" cy="1058.8" r="0.9" fill="#1d3350"/>
<rect x="120" y="1052.5" width="10" height="1.3" fill="#7fb6de"/><rect x="120" y="1058" width="20" height="1.3" fill="#7fb6de"/>
<circle cx="120.4" cy="1067.2" r="0.9" fill="#12304f"/><rect x="123" y="1066.5" width="14" height="1.4" fill="#d7e8f6"/>
<circle cx="120.4" cy="1072.5" r="0.9" fill="#12304f"/><rect x="123" y="1071.8" width="9" height="1.4" fill="#d7e8f6"/>
<circle cx="120.4" cy="1077.8" r="0.9" fill="#12304f"/><rect x="123" y="1077.1" width="13" height="1.4" fill="#d7e8f6"/>
<circle cx="120.4" cy="1083.1" r="0.9" fill="#12304f"/><rect x="123" y="1082.3999999999999" width="8" height="1.4" fill="#d7e8f6"/>
<circle cx="120.4" cy="1089.2" r="0.9" fill="#12304f"/><rect x="123" y="1088.5" width="17" height="1.4" fill="#d7e8f6"/>
<circle cx="120.4" cy="1094.5" r="0.9" fill="#12304f"/><rect x="123" y="1093.8" width="17" height="1.4" fill="#d7e8f6"/>
<rect x="145" y="1088.4" width="14.6" height="8.7" rx="1.5" fill="#f0a62e" stroke="#f6cf7a" stroke-width="0.8"/>
<rect x="162" y="1088.4" width="12.7" height="8.7" rx="1.2" fill="#9fcdea" stroke="#c9e4f5" stroke-width="0.7"/>
<rect x="165" y="1092" width="6.5" height="1.2" fill="#5d9fd0"/>
<rect x="178.6" y="1088.4" width="12.7" height="8.7" rx="1.2" fill="#9fcdea" stroke="#c9e4f5" stroke-width="0.7"/>
<rect x="181.6" y="1092" width="6.5" height="1.2" fill="#5d9fd0"/>
<rect x="195" y="1088.4" width="12.7" height="8.7" rx="1.2" fill="#9fcdea" stroke="#c9e4f5" stroke-width="0.7"/>
<rect x="198" y="1092" width="6.5" height="1.2" fill="#5d9fd0"/>
<rect x="211.7" y="1088.4" width="12.7" height="8.7" rx="1.2" fill="#9fcdea" stroke="#c9e4f5" stroke-width="0.7"/>
<rect x="214.7" y="1092" width="6.5" height="1.2" fill="#5d9fd0"/>
<rect x="228" y="1088.4" width="12.7" height="8.7" rx="1.2" fill="#9fcdea" stroke="#c9e4f5" stroke-width="0.7"/>
<rect x="231" y="1092" width="6.5" height="1.2" fill="#5d9fd0"/>
<circle cx="152" cy="1083.4" r="0.8" fill="#16314f"/>
<circle cx="185" cy="1083.4" r="0.8" fill="#16314f"/>
<circle cx="201.4" cy="1083.4" r="0.8" fill="#16314f"/>
<circle cx="218" cy="1083.4" r="0.8" fill="#16314f"/>
<circle cx="234.4" cy="1083.4" r="0.8" fill="#16314f"/>
<circle cx="316" cy="1072" r="1.8" fill="#bfc2bc" stroke="#8e918b" stroke-width="0.6"/>
<rect x="260.6" y="1189.8" width="53" height="33" rx="3" fill="#c9cbc8" />
<rect x="262" y="1191" width="50.2" height="30.6" rx="2.5" fill="url(#gLogo)"/>
<path d="M263,1206 C275,1200 296,1200 311,1204 L311,1196 C311,1193.5 309.5,1192 307,1192 L266,1192 C264,1192 263,1193.5 263,1196 Z" fill="#f2a08a" opacity="0.35"/>
<text x="268.5" y="1202" font-size="9" font-style="italic" font-weight="bold" fill="#f6e9d8" textLength="36" lengthAdjust="spacingAndGlyphs">Scorpio</text>
<path d="M268,1210 C274,1205 282,1206 286,1209 L300,1206.5 L306,1203.5 L303,1209 L290,1212 C284,1214 276,1215.5 268,1214 C271,1212.5 271,1211 268,1210 Z" fill="#f4efe8"/>
<rect x="290" y="1215.5" width="16" height="2.4" fill="#f0d9c8" opacity="0.8"/>
</g>

<g id="batteries">
<use href="#batt" x="0" y="0"/>
<use href="#batt" x="107.300" y="0"/>
</g>

<g id="truck">
  <!-- soft ground shadow -->
  <!-- rear platform -->
  <path d="M1095,1145 L1113,1143 L1115,1173 L1097,1171 Z" fill="#cf1f29"/>
  <path d="M1100.600,1147.500 L1103.900,1147.200 L1104.500,1172 L1101.200,1171.700 Z" fill="#f3f1ef"/>
  <path d="M1107,1146.500 L1109,1146.300 L1109.500,1172.500 L1107.500,1172.300 Z" fill="#a8141d"/>
  <!-- rear turret -->
  <path d="M1114.600,1108 L1134.400,1106.300 L1152.500,1112.900 L1152.500,1141 L1134.400,1152.400 L1104.700,1144.200 L1104.700,1131 L1111.300,1117.800 Z" fill="#d3202a"/>
  <path d="M1104.700,1133 C1114,1129 1130,1130 1140,1136 L1134.400,1152.400 L1104.700,1144.200 Z" fill="#c01822"/>
  <path d="M1128,1110 L1136,1109 L1130,1126 L1125,1124 Z" fill="#9c121a"/>
  <path d="M1138,1112 L1148,1113 L1140,1132 L1134,1130 Z" fill="#e4454d" opacity="0.7"/>
  <path d="M1141,1129.400 L1155.800,1131 L1155.800,1140.900 L1141,1139 Z" fill="#e6e6e8"/>
  <path d="M1151,1128 L1156,1128 L1156,1146 L1152,1147 Z" fill="#8a8c90"/>
  <!-- mid cabinet -->
  <path d="M1112,1150 L1152.500,1150 L1152.500,1193.600 L1130,1186 L1116,1180 Z" fill="#c81c26"/>
  <path d="M1134.400,1157.400 L1144.300,1158.500 L1144.300,1179 L1134.400,1177 Z" fill="#5c6066"/>
  <path d="M1132.500,1155.500 L1134.400,1155.700 L1134.400,1178.500 L1132.500,1178 Z M1144.300,1157 L1146.200,1157.200 L1146.200,1180.500 L1144.300,1180 Z" fill="#ececec"/>
  <!-- main body -->
  <path d="M1152.500,1112.900 L1172.300,1116.200 L1195.300,1124.400 L1234.900,1124.400 L1257.100,1148.300 L1276,1164 C1278,1168 1278.500,1176 1278.500,1187 L1259.600,1201.900 L1220,1213.400 L1193.700,1205.100 L1152.500,1193.600 Z" fill="url(#gTruck)"/>
  <!-- roof shade -->
  <path d="M1152.500,1112.900 L1172.300,1116.200 L1195.300,1124.400 L1234.900,1124.400 L1238,1128 L1196,1129.500 L1172,1122 L1152.500,1118 Z" fill="#b3151e"/>
  <!-- side window -->
  <path d="M1173.900,1129.400 L1195.300,1130.200 L1210.100,1160.700 L1188.700,1157.400 L1174.700,1149.100 Z" fill="#3c2c34"/>
  <path d="M1177,1132 L1187,1132.500 L1190,1150 L1180,1147 Z" fill="#5e5068" opacity="0.8"/>
  <!-- windshield -->
  <path d="M1198.600,1130.200 L1236.500,1125.200 L1257.100,1148.300 L1218.400,1161.500 Z" fill="#2e3444"/>
  <path d="M1226,1128 L1236.500,1126.500 L1254,1147 L1244,1150 Z" fill="#e9ecf0" opacity="0.9"/>
  <path d="M1203,1133 L1218,1131.500 L1232,1152 L1219,1156.500 Z" fill="#56607a" opacity="0.7"/>
  <path d="M1198.600,1130.200 L1218.400,1161.500" stroke="#a8141c" stroke-width="2"/>
  <!-- hood -->
  <path d="M1218.400,1161.500 L1257.100,1148.300 L1276,1164 L1277.700,1173.800 L1246.400,1187 L1225,1177.100 Z" fill="#da232d"/>
  <path d="M1226,1164.500 L1240,1160 L1242,1163 L1228,1168 Z" fill="#3a1a1e"/>
  <path d="M1240,1168.500 L1266,1159.500 L1267.500,1163.500 L1242,1173 Z" fill="#f3d6d6" opacity="0.9"/>
  <!-- grille -->
  <path d="M1249.700,1187 L1277.700,1173.800 L1278.500,1187 L1254.600,1197.700 Z" fill="#2a2022"/>
  <circle cx="1265.500" cy="1186" r="3.600" fill="none" stroke="#d9d9d9" stroke-width="1"/>
  <!-- headlight -->
  <path d="M1225,1182 C1232,1181.500 1242,1187 1246.400,1197 L1233,1196 C1229,1192 1226,1187 1225,1182 Z" fill="#4a4f6a"/>
  <path d="M1228,1184.500 C1233,1185 1238,1188.500 1241.500,1194" stroke="#c9d2ec" stroke-width="1.300" fill="none"/>
  <!-- stripes -->
  <path d="M1163.200,1178 L1195.300,1188.700 L1195.300,1200.200 L1163.200,1188.700 Z" fill="#f4f2f0"/>
  <path d="M1152.500,1164.800 L1156.600,1165.600 L1156.600,1194.700 L1152.500,1193.600 Z" fill="#f4f2f0"/>
  <!-- bumper -->
  <path d="M1220,1196.900 L1254.600,1198.600 L1259.600,1201.900 L1259.600,1211.700 L1228.300,1218.300 L1220,1213.400 Z" fill="#f5f4f2"/>
  <!-- crest -->
  <path d="M1176.400,1159.800 L1185.400,1161.500 L1185.400,1169 C1184.500,1172.500 1181.500,1174 1180.500,1174 C1178,1172 1176.400,1168 1176.400,1159.800 Z" fill="#f1e4e4" stroke="#a8141c" stroke-width="0.600"/>
  <path d="M1179,1163 L1183,1163.800 L1183,1168.500 L1180.800,1170.500 L1179,1168 Z" fill="#c83a42"/>
  <!-- hitch -->
  <path d="M1254.600,1199 L1281,1193.600 L1281.800,1211 L1276,1213 L1275,1204 L1268,1206.500 L1268.500,1215 L1259,1216 L1258,1203 Z" fill="#19191b"/>
  <!-- wheels -->
  <ellipse cx="1120.800" cy="1175.500" rx="9" ry="14.200" fill="#2b2b2d"/>
  <ellipse cx="1119.600" cy="1175.800" rx="5.300" ry="9.200" fill="#8f9194"/>
  <ellipse cx="1119.600" cy="1175.800" rx="2" ry="3.500" fill="#4c4e52"/>
  <ellipse cx="1207" cy="1206.800" rx="13.500" ry="16.800" fill="#252527"/>
  <ellipse cx="1205" cy="1207.300" rx="8.300" ry="11.300" fill="#96989b"/>
  <ellipse cx="1205" cy="1207.300" rx="3" ry="4.400" fill="#505256"/>
  <!-- ladder -->
  <path d="M1113,1089.800 L1136,1087.800 L1226.600,1093.500 L1282.600,1099.700 L1281.800,1122.800 L1258,1129.400 L1226.600,1122.800 L1136,1105.500 L1113,1101.400 Z" fill="url(#gLadder)"/>
  <path d="M1115,1091.500 L1134.500,1089.800 L1134.500,1103.500 L1115,1100.300 Z" fill="#c6c8c4"/>
  <path d="M1117,1095 L1133,1094 L1133,1097 L1117,1098 Z" fill="#d23a40"/>
  <path d="M1137.500,1090.500 L1225,1096 L1225,1120 L1137.500,1103.500 Z" fill="#a3a5a1"/>
  <path d="M1139,1092 l4,10 l4,-9.500 l4,10.500 l4,-10 l4,11 l4,-10.500 l4,11.500 l4,-11 l4,12 l4,-11.500 l4,12.500 l4,-12 l4,13 l4,-12.500 l4,13.500 l4,-13 l4,14 l4,-13.500 l4,14.500 l4,-14 l3,14" fill="none" stroke="#55575a" stroke-width="1.600"/>
  <path d="M1137.500,1090.500 L1225,1096 M1137.500,1103.500 L1225,1120" stroke="#6b6d6a" stroke-width="1.300"/>
  <path d="M1227.500,1094.500 L1282,1100.500 L1281.200,1122.200 L1258,1128.500 L1227.500,1122 Z" fill="#b9bbb7"/>
  <path d="M1260.400,1103 L1281,1105 L1280.500,1120.500 L1261,1125 Z" fill="#4a4c4f"/>
  <path d="M1263,1109.500 L1279,1111 M1263,1116 L1279,1116.500" stroke="#a8aaa6" stroke-width="1.300"/>
  <g stroke="#6b6d6a" stroke-width="1"><path d="M1230,1099.500 L1257,1103 M1230,1104.500 L1257,1108 M1230,1109.500 L1257,1113 M1230,1114.500 L1257,1118.500"/></g>
  <path d="M1227,1093.500 L1232,1091 L1262,1094 L1282.600,1099.700 Z" fill="#cfd1cd"/>
  <!-- blue light -->
  <path d="M1173.500,1109 C1176,1103.500 1188,1103.500 1190.500,1109 L1191.500,1117.500 L1173,1118.500 Z" fill="#3f74e6"/>
  <path d="M1177,1108 C1179,1105.500 1184,1105.500 1185.500,1108.500 L1185.500,1113.500 L1177,1113.500 Z" fill="#8fb4ff" opacity="0.800"/>
  <path d="M1171.500,1117.500 L1193,1116.500 L1194,1120.500 L1172.500,1121.500 Z" fill="#2a3a8a"/>
</g>
<!--COMPONENTS-->

<!-- ===== WIRES ===== -->
<g id="wires" shape-rendering="crispEdges">
<rect x="6" y="428" width="1016" height="2" fill="#0000d2"/>
<rect x="6" y="432" width="1016" height="5" fill="#0505ee"/>
<rect x="6" y="439" width="1016" height="2" fill="#00008c"/>
<rect x="6" y="121" width="2" height="320" fill="#0000d2"/>
<rect x="10" y="136" width="2" height="305" fill="#0000d2"/>
<rect x="360" y="133" width="2" height="334" fill="#0000d2"/>
<rect x="364" y="124" width="2" height="343" fill="#0000d2"/>
<rect x="578" y="135" width="3" height="332" fill="#0000d2"/>
<rect x="583" y="124" width="2" height="343" fill="#00008c"/>
<rect x="797" y="135" width="2" height="332" fill="#00008c"/>
<rect x="801" y="124" width="2" height="343" fill="#00008c"/>
<rect x="1016" y="134" width="2" height="307" fill="#0000d2"/>
<rect x="1020" y="124" width="2" height="317" fill="#0000d2"/>
<rect x="70" y="428" width="3" height="526" fill="#0000d2"/>
<rect x="75" y="428" width="4" height="526" fill="#0505ee"/>
<rect x="81" y="428" width="2" height="526" fill="#00008c"/>
<rect x="127" y="811" width="1054" height="2" fill="#560004"/>
<rect x="127" y="814" width="1054" height="6" fill="#8b0000"/>
<rect x="127" y="718" width="2" height="100" fill="#8b0000"/>
<rect x="131" y="718" width="2" height="100" fill="#8b0000"/>
<rect x="375" y="721" width="2" height="206" fill="#6e0006"/>
<rect x="379" y="721" width="2" height="206" fill="#6e0006"/>
<rect x="255" y="811" width="6" height="146" fill="#8b0000"/>
<rect x="263" y="811" width="1" height="146" fill="#560004"/>
<rect x="691" y="811" width="2" height="117" fill="#8b0000"/>
<rect x="695" y="811" width="2" height="117" fill="#8b0000"/>
<rect x="1010" y="741" width="2" height="186" fill="#8b0000"/>
<rect x="1014" y="741" width="2" height="186" fill="#8b0000"/>
<rect x="1132" y="260" width="2" height="553" fill="#8b0000"/>
<rect x="1136" y="260" width="2" height="553" fill="#8b0000"/>
<rect x="322" y="1131" width="148" height="2" fill="#000"/>
<rect x="322" y="1135" width="144" height="2" fill="#000"/>
<rect x="468" y="1131" width="2" height="42" fill="#000"/>
<rect x="464" y="1135" width="2" height="38" fill="#000"/>
<rect x="322" y="1149" width="32" height="2" fill="#e00000"/>
<rect x="322" y="1153" width="28" height="2" fill="#e00000"/>
<rect x="352" y="1149" width="2" height="20" fill="#e00000"/>
<rect x="348" y="1153" width="2" height="16" fill="#e00000"/>
<rect x="359" y="1149" width="99" height="2" fill="#000"/>
<rect x="359" y="1153" width="99" height="2" fill="#000"/>
<rect x="359" y="1149" width="2" height="18" fill="#000"/>
<rect x="456" y="1153" width="2" height="12" fill="#000"/>
<!--WIRES-->
</g>


<!-- ===== LABELS ===== -->
<g id="labels">
<text class="lbl" x="72" y="201.5">FUMO</text>
<text class="lbl" x="291" y="201.5">FUMO</text>
<text class="lbl" x="509" y="201.5">FUMO</text>
<text class="lbl" x="728" y="201.5">FUMO</text>
<text class="lbl" x="946" y="201.5">FUMO</text>
<text class="lbl" x="366" y="588.5">ROTTURA</text>
<text class="lbl" x="366" y="608.5">VETRO</text>
<text class="lbl" x="585" y="588.5">ROTTURA</text>
<text class="lbl" x="585" y="608.5">VETRO</text>
<text class="lbl" x="806" y="588.5">ROTTURA</text>
<text class="lbl" x="806" y="608.5">VETRO</text>
<text class="lbl" x="202.5" y="760" textLength="98.4" lengthAdjust="spacing">RIPETITORE</text>
<text class="lbl" x="202.5" y="780">EVENTO</text>
<text class="lbl" x="450.5" y="763" textLength="98.4" lengthAdjust="spacing">RIPETITORE</text>
<text class="lbl" x="450.5" y="783">EVENTO</text>
<text class="lbl" x="954" y="633" textLength="76.2" lengthAdjust="spacing">SOS GSM</text>
<text class="lbl" x="1207.5" y="305">SIRENA</text>
<text class="lbl" x="1207.5" y="325.5">ESTERNA</text>
<text class="lbl" x="1230.5" y="849">SIRENA</text>
<text class="lbl" x="1230.5" y="869">INTERNA</text>
<text class="lbl" x="168" y="937" textLength="153.5" lengthAdjust="spacing">CENTRALE 6 ZONE</text>
<text class="lbl" x="457" y="1044" textLength="161.6" lengthAdjust="spacing">INDICA VIA DI FUGA</text>
<text class="lbl" x="773" y="1044" textLength="161.6" lengthAdjust="spacing">INDICA VIA DI FUGA</text>
<text class="lbl" x="1092" y="1044" textLength="161.6" lengthAdjust="spacing">INDICA VIA DI FUGA</text>
<!--LABELS-->
</g>
</svg>
</body>
</html>
